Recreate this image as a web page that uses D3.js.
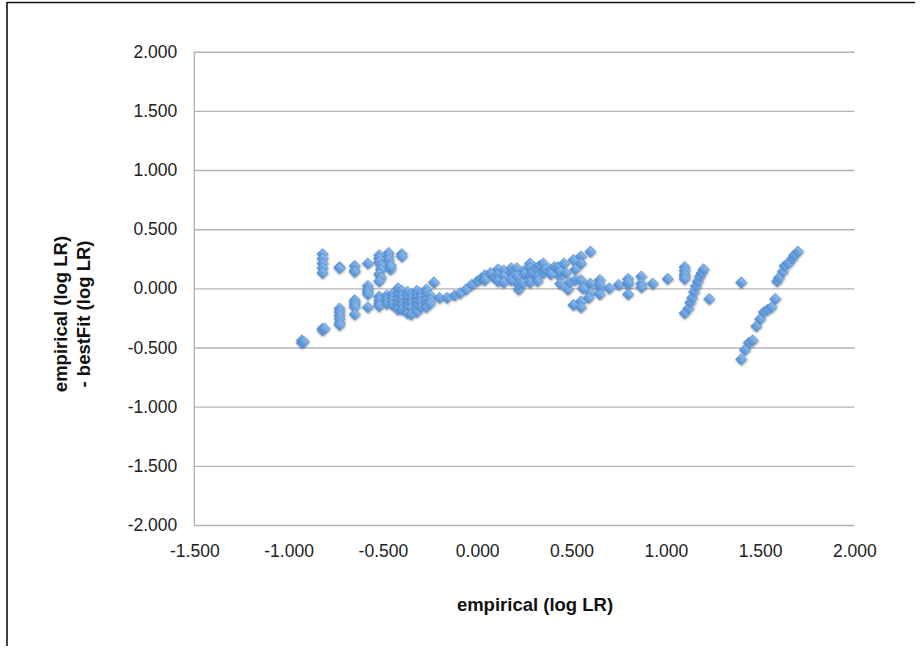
<!DOCTYPE html>
<html>
<head>
<meta charset="utf-8">
<script src="https://cdn.jsdelivr.net/npm/d3@7"></script>
<style>
  html, body { margin: 0; padding: 0; background: #fff; }
  svg { display: block; }
</style>
</head>
<body>
<svg id="chart" width="921" height="648"></svg>
<script>
// Axis ticks
const xTicks = [-1.5, -1.0, -0.5, 0.0, 0.5, 1.0, 1.5, 2.0];
const yTicks = [-2.0, -1.5, -1.0, -0.5, 0.0, 0.5, 1.0, 1.5, 2.0];

// Residuals (empirical - bestFit) against empirical log LR, grouped by region
const lowTail = [
  [-0.93, -0.44], [-0.93, -0.46], [-0.92, -0.45],
  [-0.82, -0.34], [-0.82, -0.355], [-0.81, -0.34]
];
const upperLeft = [
  [-0.82, 0.29], [-0.82, 0.25], [-0.82, 0.21], [-0.82, 0.17], [-0.82, 0.13],
  [-0.73, 0.18], [-0.73, 0.17],
  [-0.65, 0.19], [-0.65, 0.15], [-0.65, 0.14],
  [-0.58, 0.21],
  [-0.52, 0.28], [-0.52, 0.25], [-0.52, 0.22], [-0.51, 0.19], [-0.51, 0.16],
  [-0.52, 0.12], [-0.51, 0.09], [-0.52, 0.06],
  [-0.47, 0.30], [-0.47, 0.27], [-0.47, 0.24], [-0.46, 0.20], [-0.46, 0.16], [-0.46, 0.18],
  [-0.40, 0.29], [-0.40, 0.27]
];
const leftColumns = [
  [-0.73, -0.17], [-0.73, -0.20], [-0.73, -0.23], [-0.73, -0.26], [-0.73, -0.29], [-0.73, -0.31],
  [-0.65, -0.10], [-0.65, -0.12], [-0.65, -0.14], [-0.65, -0.16], [-0.65, -0.22],
  [-0.58, 0.02], [-0.58, -0.01], [-0.58, -0.03], [-0.58, -0.05], [-0.58, -0.16],
  [-0.52, -0.07], [-0.52, -0.10], [-0.52, -0.13], [-0.52, -0.15]
];
const denseBlock = [
  [-0.48, -0.06], [-0.48, -0.10], [-0.48, -0.13],
  [-0.45, -0.05], [-0.45, -0.08], [-0.45, -0.11], [-0.45, -0.14],
  [-0.42, 0.00], [-0.42, -0.04], [-0.42, -0.07], [-0.42, -0.10], [-0.42, -0.13], [-0.42, -0.16], [-0.42, -0.18],
  [-0.40, -0.02], [-0.40, -0.06], [-0.40, -0.10], [-0.40, -0.14], [-0.40, -0.18],
  [-0.37, -0.03], [-0.37, -0.06], [-0.37, -0.09], [-0.37, -0.12], [-0.37, -0.15], [-0.37, -0.18], [-0.37, -0.21],
  [-0.35, -0.05], [-0.35, -0.09], [-0.35, -0.13], [-0.35, -0.17], [-0.35, -0.22],
  [-0.32, -0.02], [-0.32, -0.05], [-0.32, -0.08], [-0.32, -0.11], [-0.32, -0.14], [-0.32, -0.17], [-0.32, -0.20],
  [-0.30, -0.04], [-0.30, -0.08], [-0.30, -0.12], [-0.30, -0.16],
  [-0.27, -0.01], [-0.27, -0.04], [-0.27, -0.07], [-0.27, -0.10], [-0.27, -0.13], [-0.27, -0.16],
  [-0.25, -0.06], [-0.25, -0.10], [-0.25, -0.13]
];
const centreTrail = [
  [-0.23, 0.05], [-0.20, -0.08], [-0.16, -0.08], [-0.12, -0.06], [-0.09, -0.04],
  [-0.06, -0.01], [-0.03, 0.03], [0.00, 0.06], [0.02, 0.08], [0.04, 0.10],
  [0.07, 0.12], [0.09, 0.09]
];
const middleBand = [
  [0.04, 0.11], [0.04, 0.07], [0.07, 0.13], [0.11, 0.16], [0.11, 0.12], [0.11, 0.06],
  [0.14, 0.15], [0.14, 0.10], [0.14, 0.05], [0.18, 0.13], [0.18, 0.07], [0.18, 0.17],
  [0.21, 0.17], [0.21, 0.10], [0.22, -0.01], [0.22, 0.03], [0.24, 0.04], [0.25, 0.15],
  [0.25, 0.12], [0.28, 0.21], [0.28, 0.17], [0.28, 0.10], [0.28, 0.05], [0.29, 0.13],
  [0.31, 0.17], [0.32, 0.10], [0.32, 0.06], [0.33, 0.19], [0.35, 0.21], [0.35, 0.13],
  [0.36, 0.16], [0.39, 0.16], [0.39, 0.12], [0.41, 0.18], [0.43, 0.18], [0.44, 0.10],
  [0.44, 0.04], [0.44, 0.14], [0.46, 0.21], [0.47, 0.13], [0.48, -0.01], [0.49, 0.05],
  [0.51, 0.24], [0.52, 0.07], [0.52, 0.16], [0.55, 0.27], [0.55, 0.21], [0.55, 0.07],
  [0.56, 0.00], [0.60, 0.31], [0.60, 0.04], [0.60, -0.04], [0.51, -0.14], [0.55, -0.11],
  [0.59, -0.08], [0.55, -0.16], [0.65, 0.07], [0.65, 0.00], [0.65, -0.05], [0.65, 0.03],
  [0.70, 0.00], [0.75, 0.03], [0.80, 0.08], [0.80, 0.03], [0.80, -0.05], [0.80, 0.05],
  [0.87, 0.10], [0.87, 0.04], [0.87, 0.01], [0.93, 0.04], [1.01, 0.08]
];
const rightStreak = [
  [1.10, 0.18], [1.10, 0.15], [1.10, 0.12], [1.10, 0.10], [1.10, 0.08],
  [1.10, -0.21], [1.12, -0.17], [1.13, -0.12], [1.14, -0.08], [1.15, -0.03],
  [1.16, 0.02], [1.17, 0.06], [1.18, 0.10], [1.19, 0.13], [1.20, 0.16], [1.23, -0.09]
];
const farRight = [
  [1.40, 0.05], [1.40, -0.60], [1.42, -0.52], [1.44, -0.46], [1.46, -0.44],
  [1.48, -0.32], [1.50, -0.26], [1.52, -0.20], [1.54, -0.18], [1.56, -0.16],
  [1.58, -0.09], [1.59, 0.06], [1.60, 0.09], [1.62, 0.14], [1.63, 0.19],
  [1.65, 0.21], [1.67, 0.25], [1.68, 0.28], [1.70, 0.31]
];

const points = [].concat(lowTail, upperLeft, leftColumns, denseBlock,
                         centreTrail, middleBand, rightStreak, farRight);

const svg = d3.select("#chart");

// Outer frame
svg.append("line").attr("x1", 7).attr("y1", 2).attr("x2", 7).attr("y2", 646)
  .attr("stroke", "#111").attr("stroke-width", 1.6);
svg.append("line").attr("x1", 7).attr("y1", 2.5).attr("x2", 915).attr("y2", 2.5)
  .attr("stroke", "#111").attr("stroke-width", 1.6);

const plot = { left: 194.3, right: 854.4, top: 51.7, bottom: 525 };

const x = d3.scaleLinear().domain([-1.5, 2.0]).range([plot.left, plot.right]);
const y = d3.scaleLinear().domain([-2.0, 2.0]).range([plot.bottom, plot.top]);

const fmt = d3.formatLocale({ decimal: ".", thousands: ",", grouping: [3], currency: ["", ""], minus: "-" }).format(".3f");

// Marker styling
const defs = svg.append("defs");
const grad = defs.append("linearGradient").attr("id", "mk").attr("x1", 0).attr("y1", 0).attr("x2", 0).attr("y2", 1);
grad.append("stop").attr("offset", "0%").attr("stop-color", "#8dbcee");
grad.append("stop").attr("offset", "100%").attr("stop-color", "#5490d4");
const sh = defs.append("filter").attr("id", "shadow").attr("x", "-50%").attr("y", "-50%").attr("width", "200%").attr("height", "200%");
sh.append("feDropShadow").attr("dx", 0.4).attr("dy", 1.0).attr("stdDeviation", 0.9)
  .attr("flood-color", "#000").attr("flood-opacity", 0.45);

// Horizontal gridlines and y labels
const yAxis = d3.axisLeft(y).tickValues(yTicks).tickFormat(fmt)
  .tickSize(-(plot.right - plot.left)).tickPadding(17);
const gy = svg.append("g").attr("transform", `translate(${plot.left},0)`).call(yAxis);
gy.select(".domain").remove();
gy.selectAll(".tick line").attr("stroke", "#b4b4b4").attr("stroke-width", 1.4);
gy.selectAll(".tick text").attr("fill", "#222")
  .style("font-family", "'Liberation Sans', Arial, sans-serif").style("font-size", "17.5px");

// X axis labels (no tick marks)
const xAxis = d3.axisBottom(x).tickValues(xTicks).tickFormat(fmt).tickSize(0).tickPadding(20);
const gx = svg.append("g").attr("transform", `translate(0,${plot.bottom})`).call(xAxis);
gx.select(".domain").remove();
gx.selectAll(".tick text").attr("fill", "#222")
  .style("font-family", "'Liberation Sans', Arial, sans-serif").style("font-size", "17.5px");

// Left axis line
svg.append("line").attr("x1", plot.left).attr("x2", plot.left)
  .attr("y1", plot.top).attr("y2", plot.bottom)
  .attr("stroke", "#b4b4b4").attr("stroke-width", 1.4);

// Points as diamonds
const sym = d3.symbol().type(d3.symbolSquare).size(62);
svg.append("g").attr("filter", "url(#shadow)")
  .selectAll("path").data(points).join("path")
  .attr("d", sym)
  .attr("transform", d => `translate(${x(d[0])},${y(d[1])}) rotate(45)`)
  .attr("fill", "url(#mk)")
  .attr("stroke", "#4a84c6").attr("stroke-width", 0.6);

// Axis titles
const titleFont = "'Liberation Sans', Arial, sans-serif";
svg.append("text").attr("x", 535).attr("y", 611).attr("text-anchor", "middle")
  .style("font-family", titleFont).style("font-size", "18.5px").style("font-weight", "bold")
  .attr("fill", "#111").text("empirical (log LR)");

const yt = svg.append("text").attr("transform", "translate(0,314) rotate(-90)")
  .attr("text-anchor", "middle")
  .style("font-family", titleFont).style("font-size", "18.5px").style("font-weight", "bold")
  .attr("fill", "#111");
yt.append("tspan").attr("x", 0).attr("y", 67).text("empirical (log LR)");
yt.append("tspan").attr("x", 0).attr("y", 90).text("- bestFit (log LR)");
</script>
</body>
</html>
